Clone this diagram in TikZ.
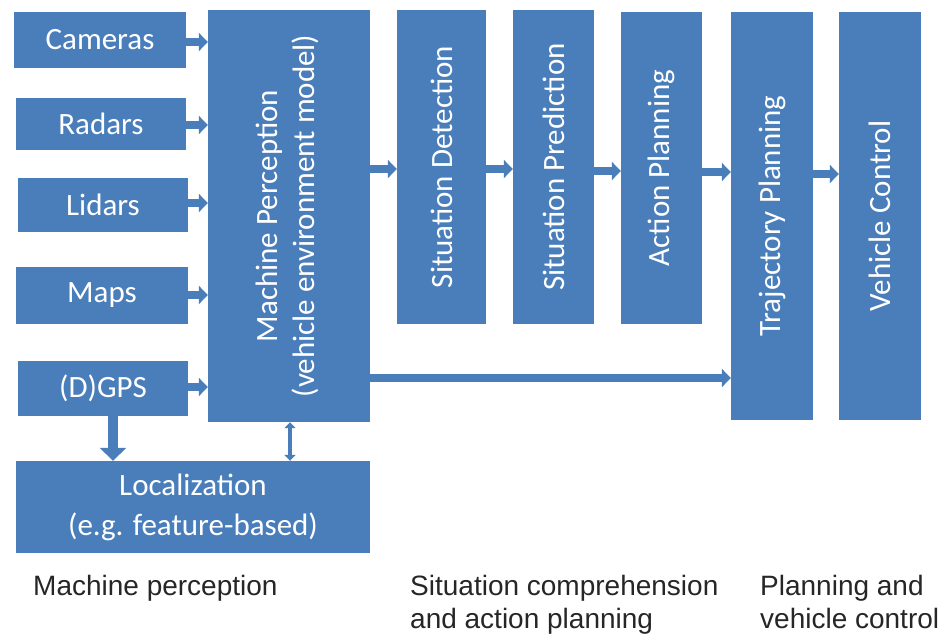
\documentclass[tikz,border=0pt]{standalone}
\usepackage{fontspec}
\setmainfont{Carlito}
\newfontfamily\capfont{Liberation Sans}
\usetikzlibrary{arrows.meta}
\definecolor{boxblue}{HTML}{4A7EBB}
\definecolor{captext}{HTML}{262626}
\begin{document}
\begin{tikzpicture}[x=1pt,y=-1pt,
  box/.style={fill=boxblue, draw=none, text=white, inner sep=0pt, align=center,
              font=\fontsize{31}{37}\selectfont},
  arr/.style={boxblue, line width=8pt, -{Triangle[length=9pt,width=18pt]}},
  captxt/.style={text=captext, inner sep=0pt, align=left, font=\capfont\fontsize{28}{33}\selectfont}]
\useasboundingbox (0,0) rectangle (941,638);
\fill[white] (0,0) rectangle (941,638);
% inputs
\node[box, minimum width=172pt, minimum height=56pt] (cam) at (100,40) {Cameras};
\node[box, minimum width=170pt, minimum height=52pt] (rad) at (101,124) {Radars};
\node[box, minimum width=170pt, minimum height=54pt] (lid) at (103,205) {Lidars};
\node[box, minimum width=172pt, minimum height=57pt] (map) at (102,295.5) {Maps};
\node[box, minimum width=170pt, minimum height=55pt] (gps) at (103,388.5) {(D)GPS};
% perception
\node[box, minimum width=162pt, minimum height=412pt] (mp) at (289,216)
  {\rotatebox{90}{\begin{tabular}{@{}c@{}}Machine Perception\\(vehicle environment model)\end{tabular}}};
\node[box, minimum width=354pt, minimum height=92pt, font=\fontsize{31}{40}\selectfont] (loc) at (193,507)
  {Localization\\(e.g. feature-based)};
% pipeline
\node[box, minimum width=89pt, minimum height=314pt] (sd) at (441.5,167) {\rotatebox{90}{Situation Detection}};
\node[box, minimum width=81pt, minimum height=314pt] (sp) at (553.5,167) {\rotatebox{90}{Situation Prediction}};
\node[box, minimum width=81pt, minimum height=312pt] (ap) at (661.5,168) {\rotatebox{90}{Action Planning}};
\node[box, minimum width=82pt, minimum height=408pt] (tp) at (772,216) {\rotatebox{90}{Trajectory Planning}};
\node[box, minimum width=82pt, minimum height=408pt] (vc) at (880,216) {\rotatebox{90}{Vehicle Control}};
% input arrows
\draw[arr] (cam.east |- 0,42) -- (mp.west |- 0,42);
\draw[arr] (rad.east |- 0,125) -- (mp.west |- 0,125);
\draw[arr] (lid.east |- 0,203) -- (mp.west |- 0,203);
\draw[arr] (map.east |- 0,295) -- (mp.west |- 0,295);
\draw[arr] (gps.east |- 0,387) -- (mp.west |- 0,387);
% localization arrows
\draw[boxblue, line width=10pt, -{Triangle[length=13pt,width=26pt]}] (gps.south -| 113,0) -- (loc.north -| 113,0);
\draw[boxblue, line width=4pt, {Triangle[length=6pt,width=11pt]}-{Triangle[length=6pt,width=11pt]}] (mp.south -| 290,0) -- (loc.north -| 290,0);
% pipeline arrows
\draw[arr] (mp.east |- 0,169) -- (sd.west |- 0,169);
\draw[arr] (sd.east |- 0,169) -- (sp.west |- 0,169);
\draw[arr] (sp.east |- 0,171) -- (ap.west |- 0,171);
\draw[arr] (ap.east |- 0,172) -- (tp.west |- 0,172);
\draw[arr] (tp.east |- 0,174) -- (vc.west |- 0,174);
\draw[arr] (mp.east |- 0,378) -- (tp.west |- 0,378);
% captions
\node[captxt, anchor=base west] (c1) at (33,595) {Machine perception};
\node[captxt, anchor=base west] (c2) at (410,628) {Situation comprehension\\and action planning};
\node[captxt, anchor=base west] (c3) at (760,628) {Planning and\\vehicle control};
\end{tikzpicture}
\end{document}
